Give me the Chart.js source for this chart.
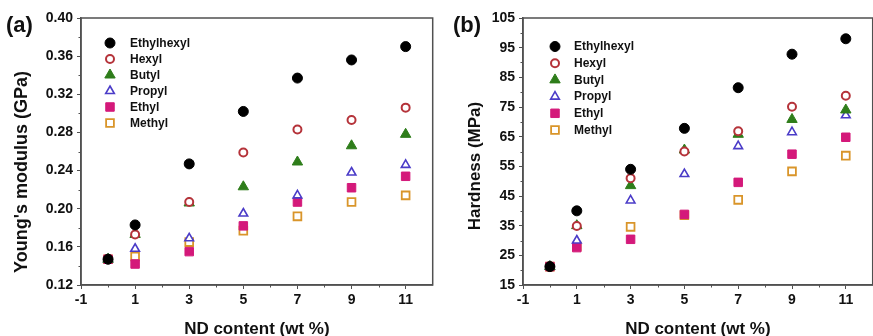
<!DOCTYPE html>
<html>
<head>
<meta charset="utf-8">
<script src="https://cdn.jsdelivr.net/npm/chart.js@4/dist/chart.umd.min.js"></script>
<style>
  html, body { margin: 0; padding: 0; background: #fff; overflow: hidden; width: 873px; height: 336px; }
  canvas { position: absolute; top: 0; }
  #modulusChart { left: 0; }
  #hardnessChart { left: 440px; }
</style>
</head>
<body>
<canvas id="modulusChart" width="440" height="336"></canvas>
<canvas id="hardnessChart" width="440" height="336"></canvas>
<script>
// Data
const ndContent = [0, 1, 3, 5, 7, 9, 11];
const seriesNames = ['Ethylhexyl', 'Hexyl', 'Butyl', 'Propyl', 'Ethyl', 'Methyl'];
const xTickValues = [-1, 1, 3, 5, 7, 9, 11];

// Young's modulus (GPa)
const modEthylhexyl = [0.147, 0.183, 0.247, 0.302, 0.337, 0.356, 0.370];
const modHexyl      = [0.147, 0.173, 0.207, 0.259, 0.283, 0.293, 0.306];
const modButyl      = [0.147, 0.173, 0.206, 0.223, 0.249, 0.266, 0.278];
const modPropyl     = [0.147, 0.158, 0.169, 0.195, 0.214, 0.238, 0.246];
const modEthyl      = [0.147, 0.142, 0.155, 0.182, 0.207, 0.222, 0.234];
const modMethyl     = [0.147, 0.150, 0.165, 0.177, 0.192, 0.207, 0.214];
const modulusTicks  = [0.12, 0.16, 0.20, 0.24, 0.28, 0.32, 0.36, 0.40];

// Hardness (MPa)
const hardEthylhexyl = [21.2, 40.0, 54.0, 67.8, 81.5, 92.8, 98.0];
const hardHexyl      = [21.2, 34.9, 51.0, 60.0, 66.8, 75.1, 78.8];
const hardButyl      = [21.2, 35.0, 48.5, 60.5, 65.8, 70.8, 74.0];
const hardPropyl     = [21.2, 30.0, 43.5, 52.4, 61.8, 66.5, 72.2];
const hardEthyl      = [21.2, 27.6, 30.4, 38.8, 49.6, 59.1, 64.8];
const hardMethyl     = [21.2, 28.0, 34.6, 38.5, 43.7, 53.3, 58.6];
const hardnessTicks  = [15, 25, 35, 45, 55, 65, 75, 85, 95, 105];

// Marker styles
const FONT = '"Liberation Sans", Arial, Helvetica, sans-serif';
const AXIS_COLOR = '#505050';
const markers = [
    { style: 'circle',   radius: 5,   fill: '#000000', stroke: '#000000', bw: 1 },
    { style: 'circle',   radius: 4,   fill: '#ffffff', stroke: '#b5333a', bw: 2 },
    { style: 'triangle', radius: 6,   fill: '#2e7d1a', stroke: '#2e7d1a', bw: 1 },
    { style: 'triangle', radius: 5,   fill: '#ffffff', stroke: '#4b3cc8', bw: 1.6 },
    { style: 'rect',     radius: 6,   fill: '#d4197a', stroke: '#d4197a', bw: 1 },
    { style: 'rect',     radius: 5.5, fill: '#ffffff', stroke: '#d9952a', bw: 1.8 }
];

function buildDatasets(seriesList) {
    return seriesList.map((values, i) => ({
        label: seriesNames[i],
        data: values.map((v, j) => ({ x: ndContent[j], y: v })),
        pointStyle: markers[i].style,
        pointRadius: markers[i].radius,
        pointHoverRadius: markers[i].radius,
        backgroundColor: markers[i].fill,
        borderColor: markers[i].stroke,
        pointBorderWidth: markers[i].bw,
        showLine: false
    }));
}

// Draw a legend marker the same way Chart.js draws points
function drawMarker(ctx, m, x, y) {
    ctx.beginPath();
    const r = m.radius;
    if (m.style === 'circle') {
        ctx.arc(x, y, r, 0, Math.PI * 2);
    } else if (m.style === 'triangle') {
        let rad = 0;
        ctx.moveTo(x + Math.sin(rad) * r, y - Math.cos(rad) * r);
        rad += Math.PI * 2 / 3;
        ctx.lineTo(x + Math.sin(rad) * r, y - Math.cos(rad) * r);
        rad += Math.PI * 2 / 3;
        ctx.lineTo(x + Math.sin(rad) * r, y - Math.cos(rad) * r);
        ctx.closePath();
    } else {
        const s = Math.SQRT1_2 * r;
        ctx.rect(x - s, y - s, 2 * s, 2 * s);
    }
    ctx.fillStyle = m.fill;
    ctx.fill();
    ctx.lineWidth = m.bw;
    ctx.strokeStyle = m.stroke;
    ctx.stroke();
}

// Frame, minor ticks, titles and legend
const decorPlugin = {
    id: 'decor',
    afterDraw(chart, args, o) {
        const { ctx, chartArea: a, scales } = chart;
        ctx.save();
        ctx.strokeStyle = AXIS_COLOR;
        ctx.lineWidth = 1.5;
        ctx.strokeRect(a.left, a.top, a.right - a.left, a.bottom - a.top);

        // minor ticks
        ctx.lineWidth = 1;
        ctx.beginPath();
        o.yMinor.forEach(v => {
            const py = Math.round(scales.y.getPixelForValue(v)) + 0.5;
            ctx.moveTo(a.left - 2.5, py);
            ctx.lineTo(a.left, py);
        });
        o.xMinor.forEach(v => {
            const px = Math.round(scales.x.getPixelForValue(v)) + 0.5;
            ctx.moveTo(px, a.bottom);
            ctx.lineTo(px, a.bottom + 2.5);
        });
        ctx.stroke();

        ctx.fillStyle = '#111';
        // panel label
        ctx.font = 'bold 22px ' + FONT;
        ctx.textAlign = 'left';
        ctx.textBaseline = 'middle';
        ctx.fillText(o.panel, o.panelX, 26);

        // x title
        ctx.font = 'bold 17px ' + FONT;
        ctx.textAlign = 'center';
        ctx.fillText('ND content (wt %)', (a.left + a.right) / 2, 329);

        // y title
        ctx.save();
        ctx.translate(o.yTitleX, o.yTitleY);
        ctx.rotate(-Math.PI / 2);
        ctx.font = 'bold ' + o.yTitleSize + 'px ' + FONT;
        ctx.fillText(o.yTitle, 0, 0);
        ctx.restore();

        // legend
        ctx.font = 'bold 12px ' + FONT;
        ctx.textAlign = 'left';
        seriesNames.forEach((name, i) => {
            const ly = a.top + o.legendTop + i * o.legendGap;
            drawMarker(ctx, markers[i], a.left + o.legendMarkerX, ly);
            ctx.fillStyle = '#111';
            ctx.fillText(name, a.left + o.legendTextX, ly + 0.5);
        });
        ctx.restore();
    }
};

function makeChart(id, seriesList, cfg) {
    const ctx = document.getElementById(id).getContext('2d');
    return new Chart(ctx, {
        type: 'scatter',
        data: { datasets: buildDatasets(seriesList) },
        plugins: [decorPlugin],
        options: {
            responsive: false,
            animation: false,
            devicePixelRatio: 1,
            layout: { padding: { top: 18, right: cfg.padRight, left: 0, bottom: 0 } },
            plugins: {
                legend: { display: false },
                tooltip: { enabled: false },
                decor: cfg.decor
            },
            scales: {
                x: {
                    type: 'linear',
                    min: -1,
                    max: 12,
                    afterBuildTicks: s => { s.ticks = xTickValues.map(v => ({ value: v })); },
                    afterFit: s => { s.height = 51; },
                    grid: { drawOnChartArea: false, tickLength: 4, tickColor: AXIS_COLOR, tickWidth: 1 },
                    border: { color: AXIS_COLOR, width: 1.5 },
                    ticks: {
                        padding: 3,
                        color: '#111',
                        font: { family: FONT, size: 14, weight: 'bold' },
                        callback: v => String(v)
                    }
                },
                y: {
                    type: 'linear',
                    min: cfg.yMin,
                    max: cfg.yMax,
                    afterBuildTicks: s => { s.ticks = cfg.yTicks.map(v => ({ value: v })); },
                    afterFit: s => { s.width = cfg.yWidth; },
                    grid: { drawOnChartArea: false, tickLength: 4, tickColor: AXIS_COLOR, tickWidth: 1 },
                    border: { color: AXIS_COLOR, width: 1.5 },
                    ticks: {
                        padding: 4,
                        color: '#111',
                        font: { family: FONT, size: 14, weight: 'bold' },
                        callback: cfg.yFormat
                    }
                }
            }
        }
    });
}

document.addEventListener('DOMContentLoaded', () => {
    makeChart('modulusChart',
        [modEthylhexyl, modHexyl, modButyl, modPropyl, modEthyl, modMethyl],
        {
            yMin: 0.12, yMax: 0.40, yTicks: modulusTicks, yWidth: 81, padRight: 6,
            yFormat: v => Number(v).toFixed(2),
            decor: {
                panel: '(a)', panelX: 6,
                yTitle: "Young's modulus (GPa)", yTitleX: 22, yTitleY: 172, yTitleSize: 18,
                yMinor: [0.14, 0.18, 0.22, 0.26, 0.30, 0.34, 0.38],
                xMinor: [0, 2, 4, 6, 8, 10],
                legendTop: 25, legendGap: 16, legendMarkerX: 29, legendTextX: 49
            }
        });

    makeChart('hardnessChart',
        [hardEthylhexyl, hardHexyl, hardButyl, hardPropyl, hardEthyl, hardMethyl],
        {
            yMin: 15, yMax: 105, yTicks: hardnessTicks, yWidth: 83, padRight: 3,
            yFormat: v => String(v),
            decor: {
                panel: '(b)', panelX: 13,
                yTitle: 'Hardness (MPa)', yTitleX: 35, yTitleY: 166, yTitleSize: 17,
                yMinor: [20, 30, 40, 50, 60, 70, 80, 90, 100],
                xMinor: [0, 2, 4, 6, 8, 10],
                legendTop: 28.5, legendGap: 16.7, legendMarkerX: 32, legendTextX: 51
            }
        });
});
</script>
</body>
</html>
